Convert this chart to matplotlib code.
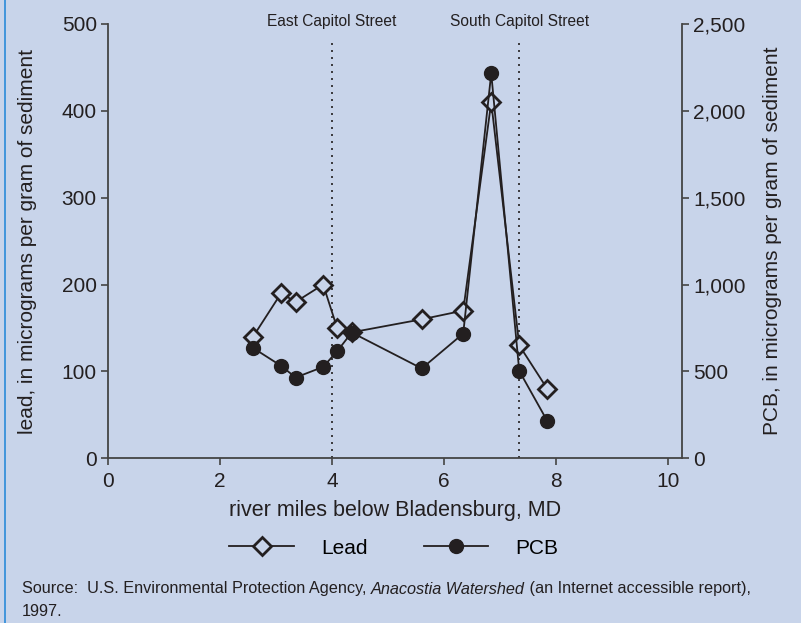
import matplotlib
matplotlib.use('Agg')
import matplotlib.pyplot as plt
from matplotlib.ticker import FuncFormatter
from matplotlib.lines import Line2D

# data
river_miles = [2.59, 3.09, 3.35, 3.84, 4.09, 4.35, 5.60, 6.34, 6.84, 7.34, 7.84]
lead = [140, 190, 180, 200, 150, 145, 160, 170, 410, 130, 80]
pcb = [635, 532, 465, 526, 616, 724, 517, 718, 2216, 503, 215]
street_names = ["East Capitol Street", "South Capitol Street"]
street_miles = [4.0, 7.34]

BG = '#c8d4ea'
INK = '#231f20'
plt.rcParams['font.family'] = ['Liberation Sans', 'DejaVu Sans']

fig = plt.figure(figsize=(8.01, 6.23), dpi=100, facecolor=BG)
ax = fig.add_axes([0.1348, 0.2644, 0.8518 - 0.1348, 0.9615 - 0.2644])
ax.set_facecolor(BG)
ax2 = ax.twinx()

ax.set_xlim(0, 10.25)
ax.set_ylim(0, 500)
ax2.set_ylim(0, 2500)
ax.set_xticks([0, 2, 4, 6, 8, 10])
ax.set_yticks(range(0, 501, 100))
ax2.set_yticks(range(0, 2501, 500))
ax2.yaxis.set_major_formatter(FuncFormatter(lambda v, p: f"{int(v):,}"))

for a in (ax, ax2):
    a.spines['top'].set_visible(False)
    for s in ('left', 'right', 'bottom'):
        a.spines[s].set_color('#444444')
        a.spines[s].set_linewidth(1.3)
    a.tick_params(direction='out', length=5, width=1.2, color='#444444',
                  labelsize=15, labelcolor=INK, pad=3)
ax.tick_params(axis='x', pad=5)
ax.spines['right'].set_visible(False)
ax2.spines['left'].set_visible(False)
ax2.spines['bottom'].set_visible(False)

for name, m in zip(street_names, street_miles):
    ax.plot([m, m], [0, 481], linestyle=(0, (1.2, 3)), color=INK, lw=1.2)
    ax.text(m, 503, name, ha='center', va='center', fontsize=11.2, color=INK,
            clip_on=False)

ax.plot(river_miles, lead, color=INK, lw=1.3, marker='D', ms=9,
        mfc=BG, mec=INK, mew=2, zorder=3)
ax2.plot(river_miles, pcb, color=INK, lw=1.3, marker='o', ms=10,
         mfc=INK, mec=INK, zorder=3)

ax.set_xlabel("river miles below Bladensburg, MD", fontsize=15.5, color=INK, labelpad=6)
ax.set_ylabel("lead, in micrograms per gram of sediment", fontsize=15, color=INK, labelpad=18)
ax2.set_ylabel("PCB, in micrograms per gram of sediment", fontsize=15, color=INK, labelpad=12)

handles = [
    Line2D([], [], color=INK, lw=1.3, marker='D', ms=9, mfc=BG, mec=INK, mew=2),
    Line2D([], [], color=INK, lw=1.3, marker='o', ms=10, mfc=INK, mec=INK),
]
fig.legend(handles, ["Lead", "PCB"], loc='center', bbox_to_anchor=(394 / 801, 1 - 548 / 623),
           ncol=2, frameon=False, fontsize=15, handlelength=3.1, handletextpad=1.3,
           columnspacing=2.7)

# source note with italic title
renderer = fig.canvas.get_renderer()
y1 = 1 - 589 / 623
parts = [("Source:  U.S. Environmental Protection Agency, ", 'normal'),
         ("Anacostia Watershed", 'italic'),
         (" (an Internet accessible report),", 'normal')]
x = 22 / 801
for txt, style in parts:
    t = fig.text(x, y1, txt, fontsize=11.7, style=style, color=INK, va='center')
    bb = t.get_window_extent(renderer)
    x += bb.width / fig.bbox.width
fig.text(22 / 801, 1 - 611 / 623, "1997.", fontsize=11.7, color=INK, va='center')

# blue rule on the left edge
fig.add_artist(Line2D([4.5 / 801, 4.5 / 801], [0, 1], color='#2a8ad8', lw=1.2))

fig.savefig('out.png', dpi=100, facecolor=BG)
